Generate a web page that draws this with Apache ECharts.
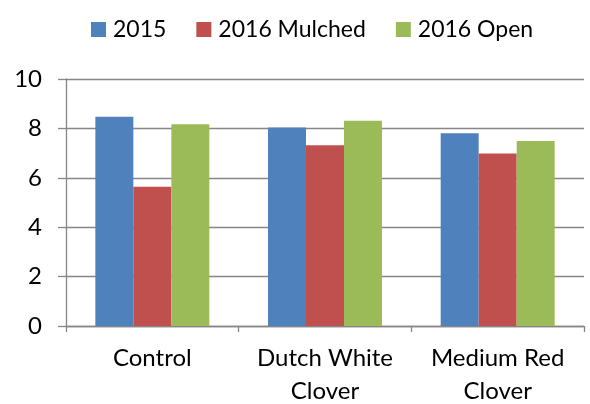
<!DOCTYPE html>
<html>
<head>
<meta charset="utf-8">
<script src="https://cdn.jsdelivr.net/npm/echarts@6/dist/echarts.min.js"></script>
<style>
  html, body { margin: 0; padding: 0; background: #ffffff; }
  #chart { width: 590px; height: 404px; }
</style>
</head>
<body>
<div id="chart"></div>
<script>
// chart data
var categories = ['Control', 'Dutch White\nClover', 'Medium Red\nClover']
var seriesNames = ['2015', '2016 Mulched', '2016 Open']
var values2015 = [8.47, 8.04, 7.8]
var valuesMulched = [5.64, 7.32, 6.98]
var valuesOpen = [8.17, 8.31, 7.49]
var colors = ['#4F81BD', '#C0504D', '#9BBB59']

var chart = echarts.init(document.getElementById('chart'))
var font = 'Lato, "Open Sans", sans-serif'
var axisGray = '#868686'

var option = {
  animation: false,
  color: colors,
  textStyle: { fontFamily: font },
  legend: {
    top: 13,
    left: 86,
    itemWidth: 15,
    itemHeight: 15,
    itemGap: 30,
    icon: 'rect',
    textStyle: { fontSize: 23, color: '#000', fontFamily: font, padding: [0, 0, 0, 2] },
    data: seriesNames
  },
  grid: {
    left: 66,
    right: 6,
    top: 79,
    bottom: 78,
    outerBoundsMode: 'none'
  },
  xAxis: {
    type: 'category',
    data: categories,
    axisLine: { lineStyle: { color: axisGray, width: 1.3 } },
    axisTick: { show: true, length: 6, lineStyle: { color: axisGray, width: 1.3 } },
    axisLabel: { fontSize: 24, color: '#000', margin: 16, lineHeight: 33, interval: 0 }
  },
  yAxis: {
    type: 'value',
    min: 0,
    max: 10,
    interval: 2,
    axisLine: { show: true, lineStyle: { color: axisGray, width: 1.3 } },
    axisTick: { show: true, length: 8, lineStyle: { color: axisGray, width: 1.3 } },
    axisLabel: { fontSize: 24, color: '#000', margin: 24 },
    splitLine: { lineStyle: { color: axisGray, width: 1.3 } }
  },
  series: [
    { name: seriesNames[0], type: 'bar', data: values2015, barGap: '0%', barCategoryGap: '34%' },
    { name: seriesNames[1], type: 'bar', data: valuesMulched, barGap: '0%', barCategoryGap: '34%' },
    { name: seriesNames[2], type: 'bar', data: valuesOpen, barGap: '0%', barCategoryGap: '34%' }
  ]
}
chart.setOption(option)
</script>
</body>
</html>
